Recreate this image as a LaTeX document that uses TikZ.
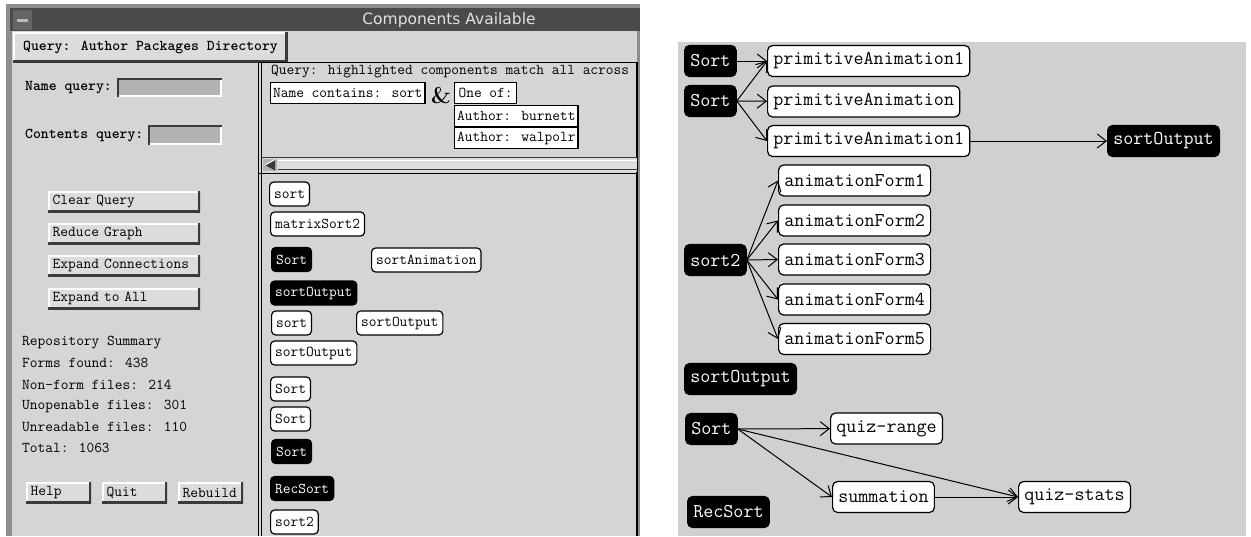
\documentclass[tikz,border=0pt]{standalone}
\usepackage{fontspec}
\usepackage{tikz}
\usetikzlibrary{arrows.meta,positioning}
\newfontfamily\titlefont{DejaVu Sans}
\definecolor{PanelGray}{HTML}{D5D5D5}
\definecolor{GraphGray}{HTML}{D0D0D0}
\definecolor{TitleGray}{HTML}{4A4A4A}
\definecolor{FrameGray}{HTML}{8E8E8E}
\definecolor{FieldGray}{HTML}{B2B2B2}
\definecolor{ShadeGray}{HTML}{3A3A3A}
\definecolor{ButtonGray}{HTML}{DCDCDC}
\definecolor{TitleText}{HTML}{E2E2E2}

\begin{document}
\begin{tikzpicture}[x=1pt, y=-1pt,
  smallfont/.style={font=\ttfamily\fontsize{15}{18}\selectfont},
  bigfont/.style={font=\ttfamily\fontsize{19.5}{23}\selectfont},
  listbox/.style={smallfont, draw=black, fill=white, line width=1.2pt, rounded corners=4pt, inner xsep=4.5pt, inner ysep=0pt, minimum height=24pt, anchor=west},
  listhit/.style={listbox, fill=black, text=white},
  formbox/.style={bigfont, draw=black, fill=white, line width=1.2pt, rounded corners=5pt, inner xsep=5.7pt, inner ysep=0pt, minimum height=31pt, anchor=west},
  formhit/.style={formbox, fill=black, text=white},
  qbox/.style={smallfont, draw=black, fill=white, line width=1.2pt, inner xsep=2.5pt, inner ysep=0pt, minimum height=21pt, anchor=north west},
  xbutton/.style={smallfont, fill=ButtonGray, inner xsep=4.5pt, inner ysep=0pt, minimum height=21pt, anchor=north west, align=left,
    path picture={
      \draw[white, line width=3pt] (path picture bounding box.south west) |- (path picture bounding box.north east);
      \draw[ShadeGray, line width=5pt] (path picture bounding box.north east) |- (path picture bounding box.south west);}},
  label/.style={smallfont, anchor=west, inner sep=0pt},
  link/.style={-{Straight Barb[length=9pt,width=14pt]}, line width=1pt},
]
\useasboundingbox (0,0) rectangle (1251,536);
\fill[white] (0,0) rectangle (1251,536);

\fill[FrameGray] (6,4) rectangle (640,536);
\fill[TitleGray] (10,8) rectangle (640,31);
\fill[TitleGray!85!white] (13,10) rectangle (32,30);
\fill[FrameGray!60!white] (17,19) rectangle (28,22);
\fill[PanelGray] (12,31) rectangle (637,536);
\node[font=\titlefont\fontsize{15.5}{18}\selectfont, text=TitleText] (title) at (449,20) {Components Available};

\node[xbutton, font=\ttfamily\bfseries\fontsize{15}{18}\selectfont, inner xsep=10pt, minimum height=30pt] (menu) at (13,32) {Query: Author Packages Directory};

\draw[line width=1.5pt] (258,62.5) -- (637,62.5);
\draw[line width=1.5pt] (258.5,62) -- (258.5,536);
\draw[line width=1pt] (261.5,62) -- (261.5,536);
\draw[line width=1.5pt] (637,62) -- (637,536);

\node[label, font=\ttfamily\bfseries\fontsize{15}{18}\selectfont] (nameq) at (25,88) {Name query:};
\fill[FieldGray] (117,78) rectangle (222,97);
\draw[white, line width=2pt] (117,96) -| (221,78);
\draw[ShadeGray, line width=2pt] (118,97) |- (222,79);
\node[label, font=\ttfamily\bfseries\fontsize{15}{18}\selectfont] (contq) at (25,135) {Contents query:};
\fill[FieldGray] (148,125) rectangle (222,145);
\draw[white, line width=2pt] (148,144) -| (221,125);
\draw[ShadeGray, line width=2pt] (149,145) |- (222,126);

\node[xbutton, text width=143pt] (clear) at (48,191) {Clear Query};
\node[xbutton, text width=143pt] (reduce) at (48,223) {Reduce Graph};
\node[xbutton, text width=143pt] (expand) at (48,255) {Expand Connections};
\node[xbutton, text width=143pt] (expall) at (48,288) {Expand to All};

\node[label] (sum1) at (22,343) {Repository Summary};
\node[label] (sum2) at (22,363) {Forms found: 438};
\node[label] (sum3) at (22,385) {Non-form files: 214};
\node[label] (sum4) at (22,406) {Unopenable files: 301};
\node[label] (sum5) at (22,427) {Unreadable files: 110};
\node[label] (sum6) at (22,448) {Total: 1063};

\node[xbutton, text width=56pt] (help) at (26,482) {Help};
\node[xbutton, text width=56pt] (quit) at (102,482) {Quit};
\node[xbutton, text width=56pt] (rebuild) at (178,482) {Rebuild};

\node[label] (qline) at (271,72) {Query: highlighted components match all across};
\node[qbox] (qname) at (270,82) {Name contains: sort};
\node[font=\bfseries\fontsize{23}{26}\selectfont] (amp) at (441,96) {\&};
\node[qbox, minimum width=62pt] (qone) at (454,82) {One of:};
\node[qbox] (qburn) at (454,104.5) {Author: burnett};
\node[qbox] (qwalp) at (454,127) {Author: walpolr};

\fill[ButtonGray] (262,157) rectangle (637,172);
\draw[ShadeGray, line width=1.5pt] (262,157.5) -- (637,157.5);
\draw[white, line width=1.5pt] (278,160.5) -- (637,160.5);
\draw[ShadeGray, line width=1.5pt] (278,169.5) -- (637,169.5);
\draw[line width=1.5pt] (258,173.5) -- (637,173.5);
\fill[FieldGray] (263,159) rectangle (277,171);
\fill[ShadeGray] (265,165) -- (275,159.5) -- (275,170.5) -- cycle;
\draw[white, line width=1pt] (265,165) -- (275,159.5);

\node[listbox] (l1) at (269,194) {sort};
\node[listbox] (l2) at (270,224) {matrixSort2};
\node[listhit] (l3) at (271,259.5) {Sort};
\node[listbox] (l4) at (371,260) {sortAnimation};
\node[listhit] (l5) at (270,293) {sortOutput};
\node[listbox] (l6) at (271,323) {sort};
\node[listbox] (l7) at (356,323) {sortOutput};
\node[listbox] (l8) at (270,353) {sortOutput};
\node[listbox] (l9) at (270,389) {Sort};
\node[listbox] (l10) at (270,419) {Sort};
\node[listhit] (l11) at (271,451.5) {Sort};
\node[listhit] (l12) at (270,488.5) {RecSort};
\node[listbox] (l13) at (270,522) {sort2};

\fill[GraphGray] (678,42) rectangle (1246,536);

\node[formhit] (s1) at (684,61) {Sort};
\node[formbox] (pa1) at (767,61) {primitiveAnimation1};
\node[formhit] (s2) at (684,101) {Sort};
\node[formbox] (pa2) at (767,101.5) {primitiveAnimation};
\node[formbox] (pa3) at (767,141) {primitiveAnimation1};
\node[formhit] (so1) at (1107,141) {sortOutput};
\node[formhit] (srt2) at (684,260) {sort2};
\node[formbox] (af1) at (778,180.5) {animationForm1};
\node[formbox] (af2) at (778,220.5) {animationForm2};
\node[formbox] (af3) at (778,259.5) {animationForm3};
\node[formbox] (af4) at (778,299.5) {animationForm4};
\node[formbox] (af5) at (778,339) {animationForm5};
\node[formhit] (so2) at (684,379) {sortOutput};
\node[formhit] (s3) at (685,429) {Sort};
\node[formbox] (qr) at (830,428.5) {quiz-range};
\node[formbox] (sm) at (832,497) {summation};
\node[formbox] (qs) at (1018,497) {quiz-stats};
\node[formhit] (rs) at (687,512) {RecSort};

\draw[link] (s1) -- (pa1);
\draw[link] (s2.east) -- (pa1.west);
\draw[link] (s2) -- (pa2);
\draw[link] (s2.east) -- (pa3.west);
\draw[link] (pa3) -- (so1);
\foreach \i in {1,...,5}
  \draw[link] (srt2.east) -- (af\i.west);
\draw[link] (s3) -- (qr);
\draw[link] (s3.east) -- (sm.west);
\draw[link] (s3.east) -- (qs.west);
\draw[link] (sm) -- (qs);
\end{tikzpicture}
\end{document}
